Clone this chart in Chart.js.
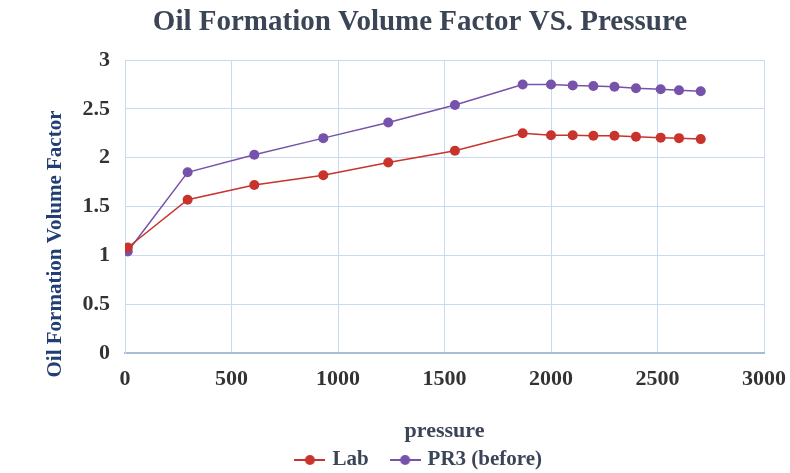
<!DOCTYPE html>
<html>
<head>
<meta charset="utf-8">
<script src="https://cdn.jsdelivr.net/npm/chart.js@4"></script>
<style>
  html, body { margin: 0; padding: 0; background: #fff; }
  #wrap { width: 790px; height: 473px; }
</style>
</head>
<body>
<div id="wrap"><canvas id="chart"></canvas></div>
<script>
// values
const pressure = [13, 294, 607, 931, 1236, 1549, 1867, 2000, 2102, 2199, 2298, 2399, 2515, 2601, 2703];
const labBo = [1.08, 1.57, 1.72, 1.82, 1.95, 2.07, 2.25, 2.23, 2.23, 2.225, 2.225, 2.215, 2.205, 2.20, 2.19];
const pr3Bo = [1.04, 1.85, 2.03, 2.20, 2.36, 2.54, 2.75, 2.75, 2.74, 2.733, 2.726, 2.71, 2.70, 2.69, 2.68];
const xTicks = [0, 500, 1000, 1500, 2000, 2500, 3000];
const yTicks = [0, 0.5, 1, 1.5, 2, 2.5, 3];

const RED = '#c8332c';
const PURPLE = '#7752aa';
const SERIF = '"Liberation Serif", "DejaVu Serif", serif';

// line + dot image for the legend
function legendIcon(color) {
  const c = document.createElement('canvas');
  c.width = 31; c.height = 12;
  const g = c.getContext('2d');
  g.strokeStyle = color;
  g.lineWidth = 2;
  g.beginPath(); g.moveTo(0, 6); g.lineTo(31, 6); g.stroke();
  g.fillStyle = color;
  g.beginPath(); g.arc(15.5, 6, 5, 0, Math.PI * 2); g.fill();
  return c;
}

// y title sits lower than the plot centre in the original, so draw it here
const yTitlePlugin = {
  id: 'yTitle',
  afterDraw(chart) {
    const c = chart.ctx;
    c.save();
    c.translate(56, 244);
    c.rotate(-Math.PI / 2);
    c.font = 'bold 21px ' + SERIF;
    c.fillStyle = '#213f74';
    c.textAlign = 'center';
    c.textBaseline = 'middle';
    c.fillText('Oil Formation Volume Factor', 0, 0);
    c.restore();
  }
};

const toPoints = (ys) => ys.map((y, i) => ({ x: pressure[i], y: y }));

const ctx = document.getElementById('chart').getContext('2d');
new Chart(ctx, {
  type: 'line',
  data: {
    datasets: [{
      label: 'Lab',
      data: toPoints(labBo),
      borderColor: RED,
      backgroundColor: RED,
      borderWidth: 1.5,
      pointRadius: 5,
      pointBorderWidth: 0,
      tension: 0
    }, {
      label: 'PR3 (before)',
      data: toPoints(pr3Bo),
      borderColor: PURPLE,
      backgroundColor: PURPLE,
      borderWidth: 1.5,
      pointRadius: 5,
      pointBorderWidth: 0,
      tension: 0
    }]
  },
  plugins: [yTitlePlugin],
  options: {
    responsive: true,
    maintainAspectRatio: false,
    animation: false,
    layout: { padding: { left: 76, right: 26, top: 0, bottom: -7.5 } },
    scales: {
      x: {
        type: 'linear',
        min: 0,
        max: 3000,
        afterBuildTicks: (axis) => { axis.ticks = xTicks.map(v => ({ value: v })); },
        afterFit: (axis) => {
          axis.height = 72;
          axis.paddingLeft = 0;
          axis.paddingRight = 0;
        },
        grid: { color: '#c9daf0', lineWidth: 1, drawTicks: false },
        border: { color: '#a9bcd6', width: 2 },
        ticks: {
          padding: 13,
          color: '#333',
          font: { family: SERIF, size: 22, weight: 'bold' },
          callback: (v) => String(v)
        },
        title: {
          display: true,
          text: 'pressure',
          color: '#3a4557',
          padding: { top: 0, bottom: -20 },
          font: { family: SERIF, size: 22, weight: 'bold' }
        }
      },
      y: {
        min: 0,
        max: 3,
        afterBuildTicks: (axis) => { axis.ticks = yTicks.map(v => ({ value: v })); },
        afterFit: (axis) => { axis.width = 49; },
        grid: { color: '#c9daf0', lineWidth: 1, drawTicks: false },
        border: { color: '#c9daf0', width: 1 },
        ticks: {
          padding: 15,
          color: '#333',
          font: { family: SERIF, size: 22, weight: 'bold' },
          callback: (v) => String(v)
        }
      }
    },
    plugins: {
      title: {
        display: true,
        text: 'Oil Formation Volume Factor VS. Pressure',
        color: '#3b4556',
        padding: { top: 5.5, bottom: 19.7 },
        font: { family: SERIF, size: 29, weight: 'bold' }
      },
      legend: {
        display: true,
        position: 'bottom',
        labels: {
          usePointStyle: true,
          pointStyleWidth: 24,
          boxHeight: 12,
          padding: 24.5,
          color: '#3a4557',
          font: { family: SERIF, size: 21, weight: 'bold' },
          generateLabels: (chart) => chart.data.datasets.map((ds, i) => ({
            text: ds.label,
            pointStyle: legendIcon(ds.borderColor),
            fillStyle: ds.borderColor,
            strokeStyle: ds.borderColor,
            lineWidth: 0,
            fontColor: '#3a4557',
            datasetIndex: i,
            hidden: false
          }))
        }
      },
      tooltip: { enabled: false }
    }
  }
});
</script>
</body>
</html>
